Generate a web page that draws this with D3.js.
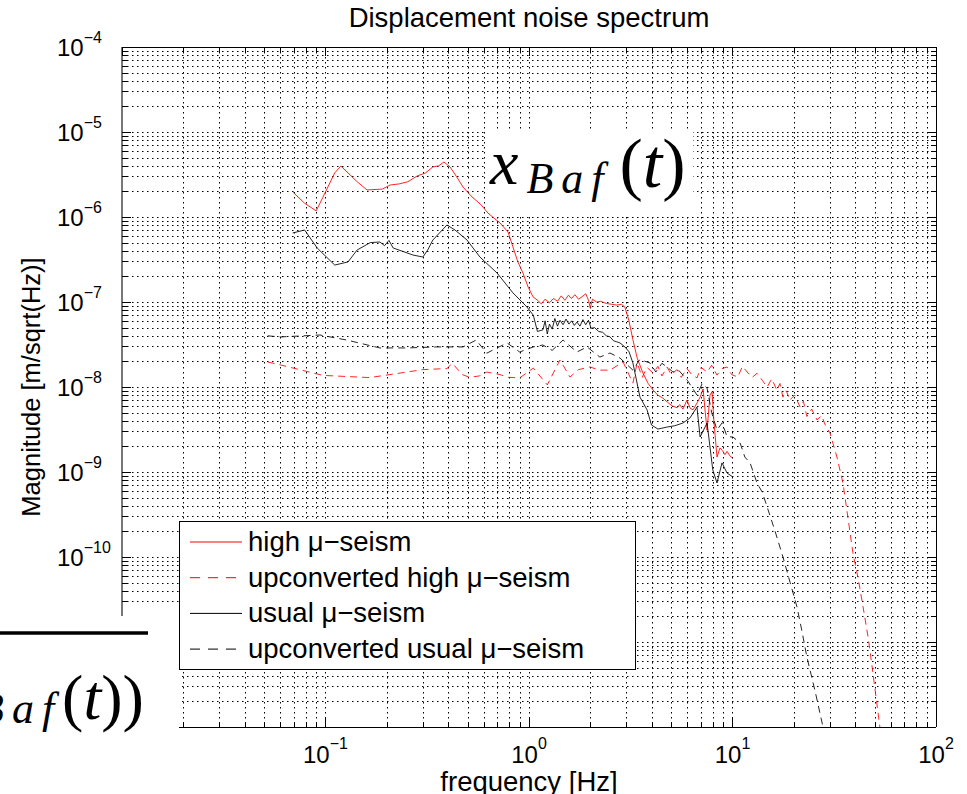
<!DOCTYPE html>
<html>
<head>
<meta charset="utf-8">
<script src="https://cdn.jsdelivr.net/npm/d3@7"></script>
<style>
  body { margin: 0; background: #fff; }
  text { font-family: "Liberation Sans", Arial, sans-serif; fill: #000; }
</style>
</head>
<body>
<script>
// series: [frequency Hz, magnitude m/sqrt(Hz)]
const highSeism = [
  [0.069,1.97e-6],[0.079,1.45e-6],[0.090,1.18e-6],[0.097,1.7e-6],[0.111,3.3e-6],[0.119,3.98e-6],
  [0.129,3.3e-6],[0.143,2.6e-6],[0.160,2.08e-6],[0.190,2.13e-6],[0.208,2.38e-6],[0.230,2.45e-6],
  [0.254,2.6e-6],[0.282,3.04e-6],[0.310,3.3e-6],[0.337,3.88e-6],[0.360,4.0e-6],[0.382,4.44e-6],
  [0.409,3.88e-6],[0.440,3.0e-6],[0.474,2.25e-6],[0.525,1.72e-6],[0.580,1.4e-6],[0.629,1.11e-6],
  [0.680,9.5e-7],[0.721,8.49e-7],[0.789,6.66e-7],[0.834,4.44e-7],[0.880,3.0e-7],[0.934,2.19e-7],
  [0.990,1.5e-7],[1.047,1.15e-7],[1.10,1.05e-7],[1.15,9.5e-8],[1.20,1.08e-7],[1.26,9.8e-8],
  [1.32,1.1e-7],[1.38,1.02e-7],[1.44,1.18e-7],[1.50,1.05e-7],[1.56,1.2e-7],[1.62,1.1e-7],
  [1.68,1.22e-7],[1.75,1.08e-7],[1.82,1.15e-7],[1.90,1.25e-7],[1.96,1.05e-7],[2.00,8.5e-8],
  [2.05,1.08e-7],[2.15,1.0e-7],[2.25,1.02e-7],[2.40,9.6e-8],[2.55,9.4e-8],[2.70,9.2e-8],
  [2.85,9.4e-8],[2.96,8.7e-8],[3.10,6.0e-8],[3.24,3.6e-8],[3.40,2.2e-8],[3.63,1.46e-8],
  [3.85,1.1e-8],[4.07,9.2e-9],[4.30,8.0e-9],[4.55,7.4e-9],[4.80,6.6e-9],[5.05,6.0e-9],
  [5.34,5.7e-9],[5.50,6.2e-9],[5.71,5.5e-9],[5.97,7.0e-9],[6.20,5.6e-9],[6.40,5.4e-9],
  [6.70,6.5e-9],[6.93,7.6e-9],[7.17,9.5e-9],[7.35,5.0e-9],[7.50,3.1e-9],[7.75,8.0e-9],
  [7.93,8.8e-9],[8.10,4.0e-9],[8.39,1.5e-9],[8.68,1.92e-9],[8.90,1.8e-9],[9.19,1.6e-9],
  [9.40,1.75e-9],[9.70,1.55e-9],[10.0,1.46e-9]
];
const highUpconv = [
  [0.052,1.97e-8],[0.060,1.82e-8],[0.097,1.37e-8],[0.165,1.29e-8],[0.300,1.6e-8],[0.395,1.65e-8],
  [0.420,1.9e-8],[0.470,1.4e-8],[0.510,1.3e-8],[0.570,1.35e-8],[0.620,1.5e-8],[0.720,1.4e-8],
  [0.790,1.3e-8],[0.900,1.28e-8],[1.05,1.67e-8],[1.23,1.06e-8],[1.42,2.08e-8],[1.59,1.31e-8],
  [1.75,1.6e-8],[1.99,1.72e-8],[2.23,1.58e-8],[2.50,1.58e-8],[2.90,1.97e-8],[3.24,1.11e-8],
  [3.40,1.92e-8],[3.60,1.3e-8],[3.80,1.7e-8],[4.07,1.46e-8],[4.30,1.75e-8],[4.50,1.35e-8],
  [4.77,1.72e-8],[5.00,1.4e-8],[5.34,1.6e-8],[5.60,1.3e-8],[5.97,1.65e-8],[6.30,1.4e-8],
  [6.69,1.28e-8],[7.00,1.7e-8],[7.50,1.5e-8],[7.90,1.8e-8],[8.39,1.38e-8],[8.90,1.65e-8],
  [9.40,1.72e-8],[9.90,1.4e-8],[10.6,1.31e-8],[11.2,1.75e-8],[11.8,1.5e-8],[12.5,1.3e-8],
  [13.2,1.45e-8],[14.0,1.2e-8],[14.8,1.0e-8],[15.6,1.25e-8],[16.5,9.2e-9],[17.1,1.1e-8],
  [17.7,7.6e-9],[18.4,9.0e-9],[19.1,7.0e-9],[20.2,8.0e-9],[21.5,5.8e-9],[22.3,6.8e-9],
  [23.2,4.5e-9],[24.5,5.5e-9],[26.0,4.1e-9],[27.4,4.6e-9],[28.8,3.4e-9],[30.1,2.9e-9],
  [31.3,2.1e-9],[32.6,1.5e-9],[34.9,7.4e-10],[37.0,2.8e-10],[39.1,1.1e-10],[41.5,5.5e-11],
  [43.8,2.6e-11],[46.5,1.1e-11],[49.0,4.3e-12],[53.0,1.0e-12],[55.0,6e-13]
];
const usualSeism = [
  [0.069,6.49e-7],[0.079,7.03e-7],[0.091,4.32e-7],[0.111,2.72e-7],[0.129,2.96e-7],[0.143,4.09e-7],
  [0.166,5.0e-7],[0.185,5.08e-7],[0.195,4.6e-7],[0.205,5.3e-7],[0.215,4.32e-7],[0.269,3.57e-7],
  [0.301,3.38e-7],[0.318,4.1e-7],[0.337,5.36e-7],[0.395,8.05e-7],[0.433,7.03e-7],[0.496,5.36e-7],
  [0.574,3.38e-7],[0.697,2.19e-7],[0.834,1.28e-7],[0.977,8.73e-8],[1.05,7.0e-8],[1.10,4.5e-8],
  [1.17,4.7e-8],[1.20,6.0e-8],[1.23,4.2e-8],[1.26,5.5e-8],[1.30,4.8e-8],[1.34,6.4e-8],
  [1.38,5.2e-8],[1.42,6.1e-8],[1.47,5.4e-8],[1.52,6.3e-8],[1.57,5.5e-8],[1.62,6.0e-8],
  [1.67,5.3e-8],[1.72,5.8e-8],[1.78,5.2e-8],[1.84,6.2e-8],[1.90,5.4e-8],[1.96,6.1e-8],
  [2.02,4.9e-8],[2.10,5.0e-8],[2.20,4.5e-8],[2.30,4.4e-8],[2.40,4.0e-8],[2.50,3.9e-8],
  [2.60,3.5e-8],[2.70,3.4e-8],[2.80,3.3e-8],[2.96,2.96e-8],[3.10,2.6e-8],[3.24,1.92e-8],
  [3.51,7.6e-9],[3.80,5.4e-9],[4.00,3.57e-9],[4.30,3.2e-9],[4.77,3.38e-9],[5.20,3.5e-9],
  [5.71,3.77e-9],[6.18,4.32e-9],[6.69,5.8e-9],[6.93,2.58e-9],[7.50,3.77e-9],[8.00,1.06e-9],
  [8.39,7.43e-10],[8.88,1.28e-9],[9.40,9.73e-10],[10.05,8.73e-10]
];
const usualUpconv = [
  [0.052,4.0e-8],[0.060,3.88e-8],[0.094,4.09e-8],[0.127,3.57e-8],[0.185,2.88e-8],[0.250,2.88e-8],
  [0.350,2.96e-8],[0.474,2.96e-8],[0.550,3.57e-8],[0.620,2.5e-8],[0.780,3.3e-8],[0.900,2.58e-8],
  [1.05,2.96e-8],[1.17,3.12e-8],[1.30,2.7e-8],[1.47,3.57e-8],[1.72,2.58e-8],[1.93,2.96e-8],
  [2.23,2.25e-8],[2.50,2.51e-8],[2.80,2.19e-8],[3.24,1.58e-8],[3.50,2.1e-8],[3.93,1.92e-8],
  [4.20,1.5e-8],[4.50,1.9e-8],[4.77,1.72e-8],[5.10,1.5e-8],[5.40,1.6e-8],[5.71,1.38e-8],
  [6.00,1.2e-8],[6.30,1.0e-8],[6.69,8.05e-9],[7.10,1.1e-8],[7.50,9.7e-9],[7.90,5.0e-9],
  [8.39,3.12e-9],[8.90,3.8e-9],[9.40,2.6e-9],[10.05,2.58e-9],[10.9,2.19e-9],[11.5,1.5e-9],
  [12.2,1.28e-9],[13.2,7.4e-10],[14.0,5.8e-10],[14.8,3.88e-10],[16.2,2.0e-10],[17.7,1.0e-10],
  [19.2,5.0e-11],[20.75,2.58e-11],[22.0,1.3e-11],[23.2,6.66e-12],[25.5,2.6e-12],[27.85,1.0e-12],
  [29.0,7e-13]
];

const legendLabels = ["high \u03bc\u2212seism", "upconverted high \u03bc\u2212seism",
                      "usual \u03bc\u2212seism", "upconverted usual \u03bc\u2212seism"];
const xTickExps = [-2, -1, 0, 1, 2];
const yTickExps = [-12, -11, -10, -9, -8, -7, -6, -5, -4];

const width = 967, height = 794;
const plot = {left: 122, right: 936, top: 47, bottom: 727};

const x = d3.scaleLog().domain([1e-2, 1e2]).range([plot.left, plot.right]);
const y = d3.scaleLog().domain([1e-12, 1e-4]).range([plot.bottom, plot.top]);

// every 1..9 x 10^k tick inside each domain
const logTicks = (exps) => {
  const t = [];
  for (let i = 0; i < exps.length - 1; i++)
    for (let k = 1; k < 10; k++) t.push({v: k * Math.pow(10, exps[i]), major: k === 1});
  t.push({v: Math.pow(10, exps[exps.length - 1]), major: true});
  return t;
};
const xTicks = logTicks(xTickExps);
const yTicks = logTicks(yTickExps);

const series = [
  {data: highSeism, color: "#ff0000", dash: null},
  {data: highUpconv, color: "#ff0000", dash: "7,5"},
  {data: usualSeism, color: "#000000", dash: null},
  {data: usualUpconv, color: "#000000", dash: "7,5"}
];

const svg = d3.select("body").append("svg")
  .attr("width", width)
  .attr("height", height);

svg.append("defs").append("clipPath").attr("id", "clip")
  .append("rect")
  .attr("x", plot.left).attr("y", plot.top)
  .attr("width", plot.right - plot.left).attr("height", plot.bottom - plot.top);

// grid
const grid = svg.append("g")
  .attr("stroke", "#000")
  .attr("stroke-width", 1)
  .attr("stroke-dasharray", "1.5,3.5");

grid.selectAll(".vg")
  .data(xTicks.filter(d => d.v > 1e-2 && d.v < 1e2))
  .join("line")
  .attr("x1", d => Math.round(x(d.v)) + 0.5).attr("x2", d => Math.round(x(d.v)) + 0.5)
  .attr("y1", plot.top).attr("y2", plot.bottom);

grid.selectAll(".hg")
  .data(yTicks.filter(d => d.v > 1e-12 && d.v < 1e-4))
  .join("line")
  .attr("y1", d => Math.round(y(d.v)) + 0.5).attr("y2", d => Math.round(y(d.v)) + 0.5)
  .attr("x1", plot.left).attr("x2", plot.right);

// annotation box x_Baf(t)
svg.append("rect")
  .attr("x", 485).attr("y", 130).attr("width", 208).attr("height", 84)
  .attr("fill", "#fff");

// curves
const line = d3.line().x(d => x(d[0])).y(d => y(d[1]));
svg.append("g")
  .attr("clip-path", "url(#clip)")
  .selectAll("path")
  .data(series)
  .join("path")
  .attr("fill", "none")
  .attr("stroke", d => d.color)
  .attr("stroke-width", 1)
  .attr("stroke-opacity", 0.85)
  .attr("stroke-dasharray", d => d.dash)
  .attr("d", d => line(d.data));

const ann = svg.append("text")
  .attr("x", 490).attr("y", 184)
  .style("font-family", "'Liberation Serif', 'DejaVu Serif', serif")
  .style("font-size", "64px");
ann.append("tspan").style("font-style", "italic").text("x");
ann.append("tspan").style("font-style", "italic").style("font-size", "44px")
  .style("letter-spacing", "8px").attr("dy", 9).attr("dx", 8).text("Baf");
ann.append("tspan").attr("dy", -6).attr("dx", 8).style("font-size", "70px").text("(");
ann.append("tspan").style("font-style", "italic").style("font-size", "70px").text("t");
ann.append("tspan").style("font-size", "70px").text(")");

// axes box
const ax = svg.append("g");
ax.append("line").attr("x1", plot.left).attr("x2", plot.right).attr("y1", plot.top + 0.5).attr("y2", plot.top + 0.5).attr("stroke", "#000");
ax.append("line").attr("x1", plot.left).attr("x2", plot.right).attr("y1", plot.bottom + 0.5).attr("y2", plot.bottom + 0.5).attr("stroke", "#000");
ax.append("line").attr("x1", plot.right + 0.5).attr("x2", plot.right + 0.5).attr("y1", plot.top).attr("y2", plot.bottom).attr("stroke", "#000");
ax.append("line").attr("x1", plot.left).attr("x2", plot.left).attr("y1", plot.top).attr("y2", plot.bottom).attr("stroke", "#777").attr("stroke-width", 2);

// inward ticks on all four sides
const tl = d => d.major ? 9 : 5;
ax.selectAll(".xt").data(xTicks).join("path")
  .attr("stroke", "#000")
  .attr("d", d => {
    const px = Math.round(x(d.v)) + 0.5;
    return `M${px},${plot.bottom}v${-tl(d)}M${px},${plot.top}v${tl(d)}`;
  });
ax.selectAll(".yt").data(yTicks).join("path")
  .attr("stroke", "#000")
  .attr("d", d => {
    const py = Math.round(y(d.v)) + 0.5;
    return `M${plot.left},${py}h${tl(d)}M${plot.right},${py}h${-tl(d)}`;
  });

// tick labels
const xl = svg.append("g").selectAll("text")
  .data(xTickExps)
  .join("text")
  .attr("x", d => x(Math.pow(10, d)))
  .attr("y", 763)
  .attr("text-anchor", "middle")
  .style("font-size", "24px");
xl.append("tspan").text("10");
xl.append("tspan").attr("dy", -14).style("font-size", "16px").text(d => d < 0 ? "\u2212" + (-d) : d);

const yl = svg.append("g").selectAll("text")
  .data(yTickExps)
  .join("text")
  .attr("x", 57)
  .attr("y", d => y(Math.pow(10, d)) + 8.5)
  .style("font-size", "24px");
yl.append("tspan").text("10");
yl.append("tspan").attr("dy", -13).style("font-size", "16px").text(d => "\u2212" + (-d));

// titles
svg.append("text")
  .attr("x", (plot.left + plot.right) / 2).attr("y", 27)
  .attr("text-anchor", "middle")
  .style("font-size", "27.5px")
  .text("Displacement noise spectrum");

svg.append("text")
  .attr("x", (plot.left + plot.right) / 2).attr("y", 791)
  .attr("text-anchor", "middle")
  .style("font-size", "27.5px")
  .text("frequency [Hz]");

svg.append("text")
  .attr("transform", `translate(40,${(plot.top + plot.bottom) / 2}) rotate(-90)`)
  .attr("text-anchor", "middle")
  .style("font-size", "25.5px")
  .text("Magnitude [m/sqrt(Hz)]");

// overlapping fragment of another figure at lower left
svg.append("rect").attr("x", 0).attr("y", 616).attr("width", 179).attr("height", 178).attr("fill", "#fff");
svg.append("line").attr("x1", 0).attr("x2", 148).attr("y1", 633).attr("y2", 633).attr("stroke", "#000").attr("stroke-width", 3.5);
const frag = svg.append("text")
  .attr("x", -23).attr("y", 723)
  .style("font-family", "'Liberation Serif', 'DejaVu Serif', serif")
  .style("font-size", "44px");
frag.append("tspan").style("font-style", "italic").style("letter-spacing", "8px").text("Baf");
frag.append("tspan").attr("dy", -4).style("font-size", "64px").text("(");
frag.append("tspan").style("font-style", "italic").style("font-size", "64px").text("t");
frag.append("tspan").style("font-size", "64px").text("))");

// legend
const lg = svg.append("g");
lg.append("rect")
  .attr("x", 179.5).attr("y", 521.5).attr("width", 456).attr("height", 148)
  .attr("fill", "#fff").attr("stroke", "#000");
const rows = lg.selectAll(".row").data(series).join("g")
  .attr("transform", (d, i) => `translate(0,${542 + i * 35.7})`);
rows.append("line")
  .attr("x1", 190).attr("x2", 242)
  .attr("stroke", d => d.color)
  .attr("stroke-dasharray", d => d.dash ? "10,8" : null);
rows.append("text")
  .attr("x", 248).attr("y", 9)
  .style("font-size", "27.5px")
  .text((d, i) => legendLabels[i]);
</script>
</body>
</html>
